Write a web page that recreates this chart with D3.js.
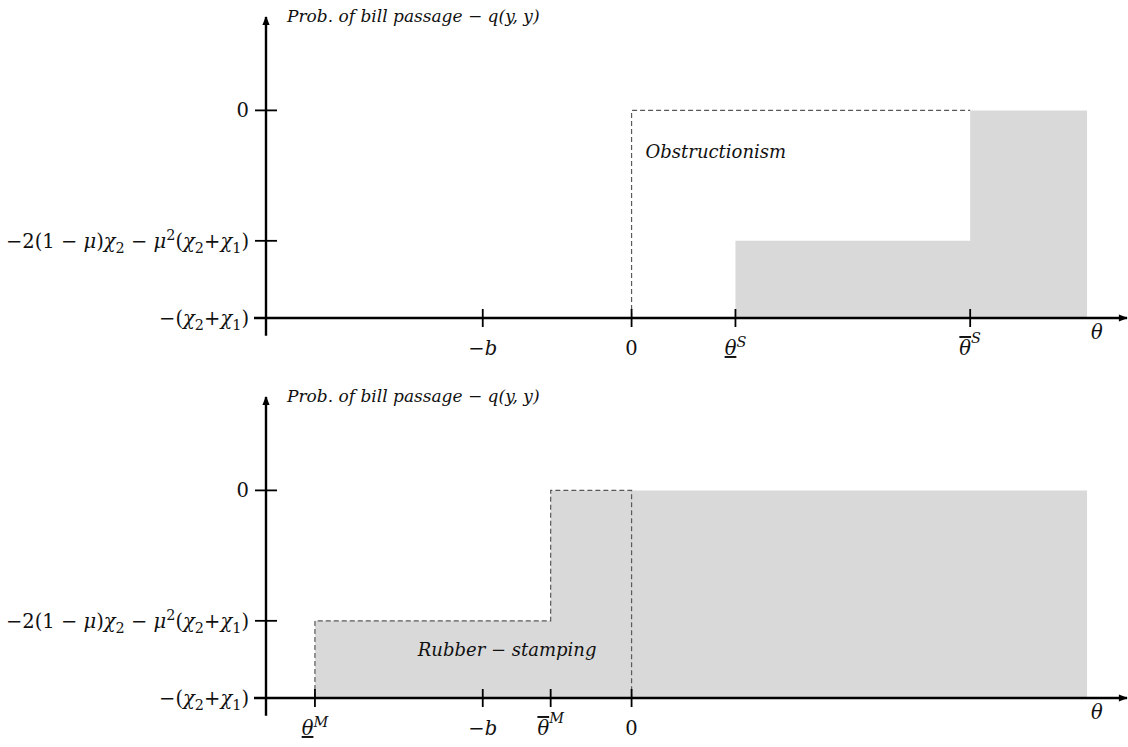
<!DOCTYPE html>
<html>
<head>
<meta charset="utf-8">
<script src="https://cdn.jsdelivr.net/npm/d3@7"></script>
<style>
  body { margin: 0; background: #fff; }
  svg { display: block; }
  text { font-family: "DejaVu Serif", serif; fill: #111; }
</style>
</head>
<body>
<div id="chart"></div>
<script>
/* Levels on the vertical axis (0 = bottom level) */
const yLevels = [2.69, 1, 0];
const yTickLabels = [
    [["0"]],
    [["−2(1 − "], ["μ", "it"], [")"], ["χ", "it"], ["2", "sub"], [" − "], ["μ", "it"], ["2", "sup"],
     ["("], ["χ", "it"], ["2", "sub"], ["+"], ["χ", "it"], ["1", "sub"], [")"]],
    [["−("], ["χ", "it"], ["2", "sub"], ["+"], ["χ", "it"], ["1", "sub"], [")"]]
];
const yTitle = "Prob. of bill passage − q(y, y)";
const xTitle = "θ";

/* Top panel: obstructionism */
const topTicks = [-1.49, 0, 1.04, 3.39];
const topTickLabels = [
    [["−"], ["b", "it"]],
    [["0"]],
    [["θ", "it under"], ["S", "it sup"]],
    [["θ", "it over"], ["S", "it sup high"]]
];
const topShade = [[1.04, 1], [3.39, 2.69], [4.56, 2.69]];
const topDashed = [[1.04, 0], [0, 0], [0, 2.69], [3.39, 2.69]];
const topNote = {x: 0.14, y: 2.07, text: "Obstructionism"};

/* Bottom panel: rubber-stamping */
const bottomTicks = [-3.17, -1.49, -0.81, 0];
const bottomTickLabels = [
    [["θ", "it under"], ["M", "it sup"]],
    [["−"], ["b", "it"]],
    [["θ", "it over"], ["M", "it sup high"]],
    [["0"]]
];
const bottomShade = [[-3.17, 1], [-0.81, 2.69], [4.56, 2.69]];
const bottomDashed = [[-3.17, 0], [-3.17, 1], [-0.81, 1], [-0.81, 2.69], [0, 2.69], [0, 0]];
const bottomNote = {x: -2.14, y: 0.54, text: "Rubber − stamping"};

const svg = d3.select('#chart').append('svg')
    .attr('width', 1128)
    .attr('height', 747);

svg.append('defs').append('marker')
    .attr('id', 'arrow')
    .attr('viewBox', '0 -5 10 10')
    .attr('refX', 9)
    .attr('refY', 0)
    .attr('markerUnits', 'userSpaceOnUse')
    .attr('markerWidth', 10)
    .attr('markerHeight', 9)
    .attr('orient', 'auto')
  .append('path')
    .attr('d', 'M0,-4L10,0L0,4Z')
    .attr('fill', '#000');

const x = d3.scaleLinear().domain([-3.66, 4.96]).range([266, 1127]);

/* Write a label made of pieces: italic, sub/superscript, under/overline */
function rich(text, segs) {
    let shift = 0;
    segs.forEach(([t, s = '']) => {
        const f = s.split(' ');
        let target = 0;
        if (f.includes('sub')) target = 5;
        if (f.includes('sup')) target = f.includes('high') ? -12 : -8;
        const ts = text.append('tspan').text(t).attr('dy', target - shift);
        shift = target;
        if (target !== 0) ts.attr('font-size', '0.74em');
        if (f.includes('it')) ts.attr('font-style', 'italic');
        if (f.includes('under')) ts.attr('text-decoration', 'underline');
        if (f.includes('over')) ts.attr('text-decoration', 'overline');
    });
}

function drawPanel(y, ticks, tickLabels, shade, dashed, note) {
    const g = svg.append('g');
    const x0 = x.range()[0];

    const area = d3.area()
        .x(d => x(d[0]))
        .y0(y(0))
        .y1(d => y(d[1]))
        .curve(d3.curveStepAfter);

    g.append('path')
        .datum(shade)
        .attr('d', area)
        .attr('fill', '#d9d9d9');

    g.append('path')
        .datum(dashed)
        .attr('d', d3.line().x(d => x(d[0])).y(d => y(d[1])))
        .attr('fill', 'none')
        .attr('stroke', '#595959')
        .attr('stroke-width', 1.2)
        .attr('stroke-dasharray', '5,3');

    /* Axes */
    g.append('line')
        .attr('x1', x0).attr('x2', x0)
        .attr('y1', y(-0.23)).attr('y2', y.range()[1])
        .attr('stroke', '#000').attr('stroke-width', 2.4)
        .attr('marker-end', 'url(#arrow)');

    g.append('line')
        .attr('x1', x0 - 12).attr('x2', x.range()[1])
        .attr('y1', y(0)).attr('y2', y(0))
        .attr('stroke', '#000').attr('stroke-width', 2.4)
        .attr('marker-end', 'url(#arrow)');

    /* Y ticks */
    g.selectAll('.ytick').data(yLevels).join('line')
        .attr('x1', x0 - 11).attr('x2', x0 + 11)
        .attr('y1', d => y(d)).attr('y2', d => y(d))
        .attr('stroke', '#000').attr('stroke-width', 1.8);

    g.selectAll('.ylab').data(yLevels).join('text')
        .attr('x', x0 - 17)
        .attr('y', d => y(d) + 7)
        .attr('text-anchor', 'end')
        .attr('font-size', 19.5)
        .each(function(d, i) { rich(d3.select(this), yTickLabels[i]); });

    /* X ticks */
    g.selectAll('.xtick').data(ticks).join('line')
        .attr('x1', d => x(d)).attr('x2', d => x(d))
        .attr('y1', y(0) - 9).attr('y2', y(0) + 9)
        .attr('stroke', '#000').attr('stroke-width', 1.8);

    g.selectAll('.xlab').data(ticks).join('text')
        .attr('x', d => x(d))
        .attr('y', y(0) + 37)
        .attr('text-anchor', 'middle')
        .attr('font-size', 19.5)
        .each(function(d, i) { rich(d3.select(this), tickLabels[i]); });

    /* Titles */
    g.append('text')
        .attr('x', x0 + 21)
        .attr('y', y.range()[1] + 5)
        .attr('font-size', 17)
        .attr('font-style', 'italic')
        .text(yTitle);

    g.append('text')
        .attr('x', x(4.56) + 4)
        .attr('y', y(0) + 21)
        .attr('font-size', 19.5)
        .attr('font-style', 'italic')
        .text(xTitle);

    g.append('text')
        .attr('x', x(note.x))
        .attr('y', y(note.y))
        .attr('font-size', 18)
        .attr('font-style', 'italic')
        .text(note.text);
}

const yTop = d3.scaleLinear().domain([0, 3.9]).range([318, 17]);
const yBottom = d3.scaleLinear().domain([0, 3.9]).range([698, 397]);

drawPanel(yTop, topTicks, topTickLabels, topShade, topDashed, topNote);
drawPanel(yBottom, bottomTicks, bottomTickLabels, bottomShade, bottomDashed, bottomNote);
</script>
</body>
</html>
